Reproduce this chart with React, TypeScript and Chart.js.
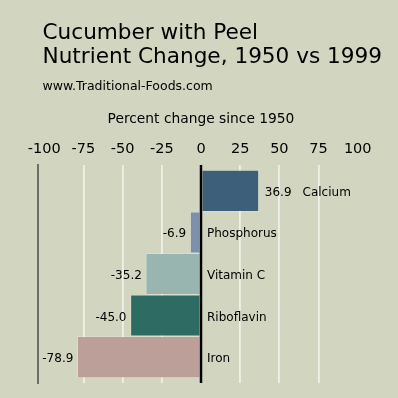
import React, { useEffect, useRef } from "react";
import { Chart, registerables } from "chart.js";

Chart.register(...registerables);

// ---- data ----
const categories = ["Calcium", "Phosphorus", "Vitamin C", "Riboflavin", "Iron"];
const changes = [36.9, -6.9, -35.2, -45.0, -78.9];
const valueLabels = ["36.9", "-6.9", "-35.2", "-45.0", "-78.9"];
const barColors = ["#3d5f7a", "#7c8fab", "#98b5af", "#2e6b62", "#bd9f9a"];
const tickValues = [-100, -75, -50, -25, 0, 25, 50, 75, 100];
const titleLines = ["Cucumber with Peel", "Nutrient Change, 1950 vs 1999"];
const subtitleText = "www.Traditional-Foods.com";
const axisTitleText = "Percent change since 1950";

const FONT = '"DejaVu Sans", sans-serif';
const BG = "#d2d6c0";

const bgPlugin = {
  id: "bgFill",
  beforeDraw(chart: any) {
    const { ctx, width, height } = chart;
    ctx.save();
    ctx.fillStyle = BG;
    ctx.fillRect(0, 0, width, height);
    ctx.restore();
  },
};

const overlayPlugin = {
  id: "overlay",
  afterDatasetsDraw(chart: any) {
    const { ctx, chartArea, scales } = chart;
    const xs = scales.x;
    const zeroX = xs.getPixelForValue(0);
    ctx.save();
    // zero line
    ctx.strokeStyle = "#000";
    ctx.lineWidth = 2.5;
    ctx.beginPath();
    ctx.moveTo(zeroX, chartArea.top);
    ctx.lineTo(zeroX, chartArea.bottom);
    ctx.stroke();

    // bar labels
    const meta = chart.getDatasetMeta(0);
    ctx.fillStyle = "#000";
    ctx.font = `12px ${FONT}`;
    ctx.textBaseline = "alphabetic";
    meta.data.forEach((bar: any, i: number) => {
      const v = changes[i];
      const y = bar.y + 5;
      if (v >= 0) {
        ctx.textAlign = "left";
        const vx = bar.x + 6;
        ctx.fillText(valueLabels[i], vx, y);
        const w = ctx.measureText(valueLabels[i]).width;
        ctx.fillText(categories[i], vx + w + 11, y);
      } else {
        ctx.textAlign = "right";
        ctx.fillText(valueLabels[i], bar.x - 4, y);
        ctx.textAlign = "left";
        ctx.fillText(categories[i], zeroX + 6, y);
      }
    });
    ctx.restore();
  },
  afterDraw(chart: any) {
    const { ctx, scales } = chart;
    ctx.save();
    ctx.fillStyle = "#000";
    ctx.textBaseline = "alphabetic";
    ctx.textAlign = "left";
    ctx.font = `21.6px ${FONT}`;
    ctx.fillText(titleLines[0], 42.5, 39);
    ctx.fillText(titleLines[1], 42.5, 63);
    ctx.font = `12.5px ${FONT}`;
    ctx.fillText(subtitleText, 42.5, 90);
    ctx.font = `13.8px ${FONT}`;
    ctx.textAlign = "center";
    ctx.fillText(axisTitleText, scales.x.getPixelForValue(0), 123);
    ctx.restore();
  },
};

export default function App() {
  const ref = useRef<HTMLCanvasElement>(null);
  useEffect(() => {
    const chart = new Chart(ref.current as HTMLCanvasElement, {
      type: "bar",
      data: {
        datasets: [
          {
            data: changes.map((v, i) => ({ x: v, y: i })),
            backgroundColor: barColors,
            borderColor: "rgba(255,255,255,0.18)",
            borderWidth: 1,
            borderSkipped: false,
            barPercentage: 1,
            categoryPercentage: 1,
          },
        ],
      },
      options: {
        indexAxis: "y",
        responsive: false,
        animation: false,
        layout: { padding: { top: 133.6, left: 38, right: 34, bottom: 15 } },
        plugins: {
          legend: { display: false },
          tooltip: { enabled: false },
          title: { display: false },
        },
        scales: {
          x: {
            type: "linear",
            position: "top",
            min: -104,
            max: 104,
            afterBuildTicks: (scale: any) => {
              scale.ticks = tickValues.map((v) => ({ value: v }));
            },
            ticks: {
              color: "#000",
              padding: 7,
              font: { family: FONT, size: 14.5 },
              callback: (v: any) => String(v),
            },
            grid: {
              drawTicks: false,
              lineWidth: 1.8,
              color: (c: any) => {
                const v = c.tick ? c.tick.value : null;
                if (v === -100 || v === 100 || v === 0) return "rgba(0,0,0,0)";
                return "#f0f0e6";
              },
            },
            border: { display: false },
          },
          y: {
            type: "linear",
            position: "left",
            offset: false,
            min: -0.625,
            max: 4.625,
            reverse: true,
            afterBuildTicks: (scale: any) => {
              scale.ticks = categories.map((_, i) => ({ value: i }));
            },
            ticks: { display: false },
            grid: { display: false, drawTicks: false, offset: false },
            border: { display: true, color: "#6b6d66", width: 2 },
          },
        },
      },
      plugins: [bgPlugin, overlayPlugin],
    } as any);
    return () => chart.destroy();
  }, []);
  return (
    <div style={{ position: "fixed", left: 0, top: 0, width: 398, height: 398, background: BG }}>
      <canvas ref={ref} width={398} height={398} style={{ display: "block" }} />
    </div>
  );
}
